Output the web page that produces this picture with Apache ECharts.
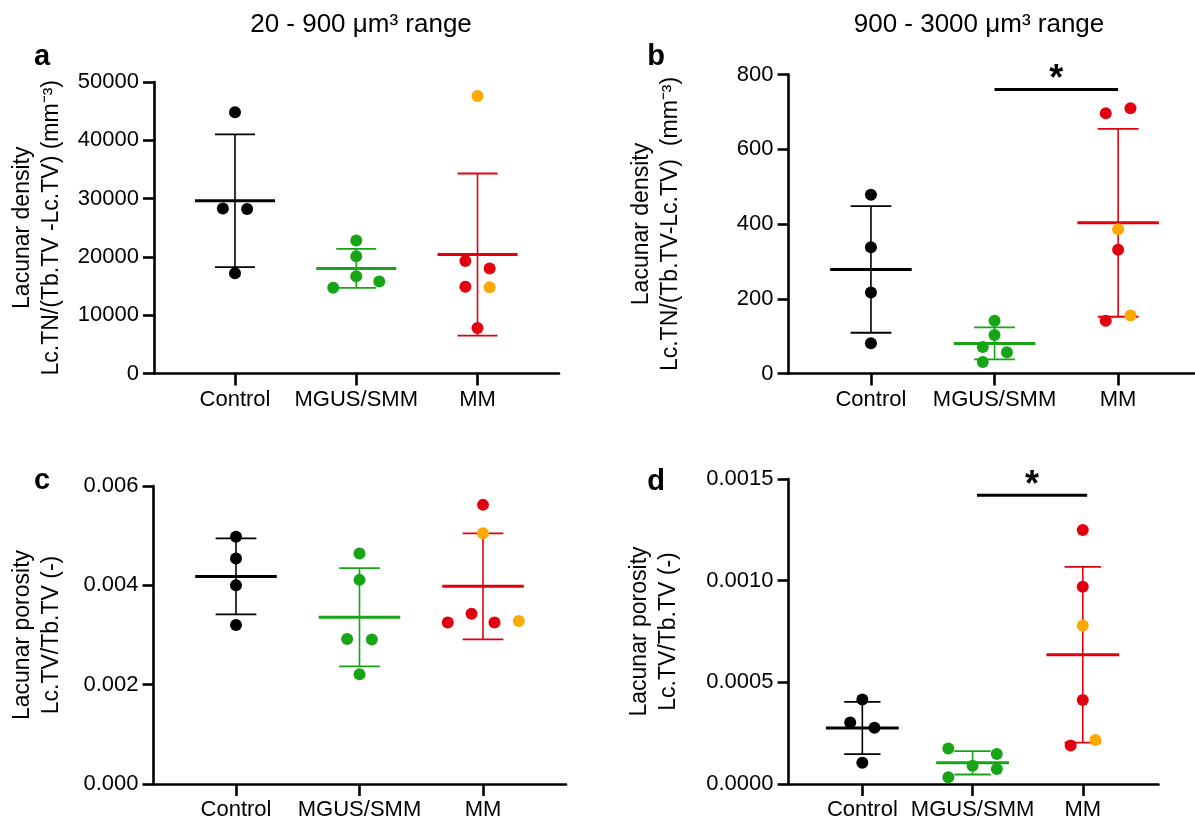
<!DOCTYPE html>
<html>
<head>
<meta charset="utf-8">
<script src="https://cdn.jsdelivr.net/npm/echarts@6/dist/echarts.min.js"></script>
<style>
  html, body { margin: 0; padding: 0; background: #ffffff; }
  #chart { width: 1195px; height: 824px; }
</style>
</head>
<body>
<div id="chart"></div>
<script>
const FONT = 'Arial, "Liberation Sans", Helvetica, sans-serif';

const CATEGORIES = ['Control', 'MGUS/SMM', 'MM'];
const GROUP_COLORS = ['#000000', '#17a517', '#e2000f'];
const SUBSET_COLOR = '#ffa800';

// ---- a: lacunar density, 20 - 900 um3 lacunae (mm^-3)
const aControl = [44800, 28300, 28200, 17200];
const aControlJitter = [0, -0.1, 0.1, 0];
const aMgus = [22800, 20100, 16700, 14700, 15800];
const aMgusJitter = [0, 0, 0, -0.19, 0.19];
const aMm = [47600, 19300, 18000, 14900, 14800, 7800];
const aMmJitter = [0, -0.1, 0.1, -0.1, 0.1, 0];
const aMmSubset = [1, 0, 0, 0, 1, 0];

// ---- b: lacunar density, 900 - 3000 um3 lacunae (mm^-3)
const bControl = [478, 338, 217, 81];
const bControlJitter = [0, 0, 0, 0];
const bMgus = [141, 103, 71, 57, 31];
const bMgusJitter = [0, 0, -0.095, 0.1, -0.095];
const bMm = [696, 710, 386, 331, 141, 155];
const bMmJitter = [-0.1, 0.1, 0, 0, -0.1, 0.1];
const bMmSubset = [0, 0, 1, 0, 0, 1];
const bSignificance = [1, 2, 760];

// ---- c: lacunar porosity, 20 - 900 um3 lacunae (-)
const cControl = [0.00498, 0.00454, 0.00400, 0.00320];
const cControlJitter = [0, 0, 0, 0];
const cMgus = [0.00464, 0.00411, 0.00292, 0.00291, 0.00221];
const cMgusJitter = [0, 0, -0.1, 0.1, 0];
const cMm = [0.00562, 0.00505, 0.00343, 0.00325, 0.00325, 0.00328];
const cMmJitter = [0, 0, -0.093, -0.285, 0.093, 0.29];
const cMmSubset = [0, 1, 0, 0, 0, 1];

// ---- d: lacunar porosity, 900 - 3000 um3 lacunae (-)
const dControl = [0.000416, 0.000302, 0.000277, 0.000105];
const dControlJitter = [0, -0.11, 0.11, 0];
const dMgus = [0.000175, 0.000148, 0.000090, 0.000074, 0.000033];
const dMgusJitter = [-0.22, 0.22, 0, 0.22, -0.22];
const dMm = [0.001249, 0.000970, 0.000779, 0.000413, 0.000189, 0.000216];
const dMmJitter = [0, 0, 0, 0, -0.11, 0.115];
const dMmSubset = [0, 0, 1, 0, 0, 1];
const dSignificance = [1.04, 2.04, 0.00142];

// ---- text
const COLUMN_TITLES = ['20 - 900 \u03bcm\u00b3 range', '900 - 3000 \u03bcm\u00b3 range'];
const PANEL_LETTERS = ['a', 'b', 'c', 'd'];
const Y_NAMES = [
  'Lacunar density\nLc.TN/(Tb.TV -Lc.TV) (mm\u207b\u00b3)',
  'Lacunar density\nLc.TN/(Tb.TV-Lc.TV)  (mm\u207b\u00b3)',
  'Lacunar porosity\nLc.TV/Tb.TV (-)',
  'Lacunar porosity\nLc.TV/Tb.TV (-)'
];

function mean(v) { return v.reduce((s, x) => s + x, 0) / v.length; }
function sd(v) {
  const m = mean(v);
  return Math.sqrt(v.reduce((s, x) => s + (x - m) * (x - m), 0) / (v.length - 1));
}

const panels = [
  { groups: [aControl, aMgus, aMm], jitter: [aControlJitter, aMgusJitter, aMmJitter], subset: aMmSubset,
    grid: { left: 154, top: 82, width: 405, height: 291.5 }, xMin: -0.668, xMax: 2.672,
    yMax: 50000, yStep: 10000, digits: 0, nameGap: 88, sig: null },
  { groups: [bControl, bMgus, bMm], jitter: [bControlJitter, bMgusJitter, bMmJitter], subset: bMmSubset,
    grid: { left: 788.5, top: 74.5, width: 406.5, height: 299 }, xMin: -0.667, xMax: 2.622,
    yMax: 800, yStep: 200, digits: 0, nameGap: 103, sig: bSignificance },
  { groups: [cControl, cMgus, cMm], jitter: [cControlJitter, cMgusJitter, cMmJitter], subset: cMmSubset,
    grid: { left: 153.5, top: 486, width: 412.5, height: 298 }, xMin: -0.668, xMax: 2.672,
    yMax: 0.006, yStep: 0.002, digits: 3, nameGap: 87, sig: null },
  { groups: [dControl, dMgus, dMm], jitter: [dControlJitter, dMgusJitter, dMmJitter], subset: dMmSubset,
    grid: { left: 788.5, top: 479, width: 370, height: 305 }, xMin: -0.67, xMax: 2.687,
    yMax: 0.0015, yStep: 0.0005, digits: 4, nameGap: 105, sig: dSignificance }
];

function renderSummary(params, api) {
  const g = Math.round(api.value(0));
  const m = api.value(1);
  const s = api.value(2);
  const color = GROUP_COLORS[g];
  const unit = api.size([1, 0])[0];
  const mid = api.coord([g, m]);
  const hi = api.coord([g, m + s]);
  const lo = api.coord([g, m - s]);
  const half = unit * 0.33;
  const cap = unit * 0.165;
  return {
    type: 'group',
    children: [
      { type: 'line', shape: { x1: mid[0], y1: hi[1], x2: mid[0], y2: lo[1] }, style: { stroke: color, lineWidth: 1.6 } },
      { type: 'line', shape: { x1: mid[0] - cap, y1: hi[1], x2: mid[0] + cap, y2: hi[1] }, style: { stroke: color, lineWidth: 1.8 } },
      { type: 'line', shape: { x1: mid[0] - cap, y1: lo[1], x2: mid[0] + cap, y2: lo[1] }, style: { stroke: color, lineWidth: 1.8 } },
      { type: 'line', shape: { x1: mid[0] - half, y1: mid[1], x2: mid[0] + half, y2: mid[1] }, style: { stroke: color, lineWidth: 3 } }
    ]
  };
}

function renderSignificance(params, api) {
  const p1 = api.coord([api.value(0), api.value(2)]);
  const p2 = api.coord([api.value(1), api.value(2)]);
  return {
    type: 'group',
    children: [
      { type: 'line', shape: { x1: p1[0], y1: p1[1], x2: p2[0], y2: p2[1] }, style: { stroke: '#000', lineWidth: 3 } },
      { type: 'text', x: (p1[0] + p2[0]) / 2, y: p1[1] - 9,
        style: { text: '*', font: 'bold 36px ' + FONT, fill: '#000', align: 'center', verticalAlign: 'middle' } }
    ]
  };
}

const grids = [], xAxes = [], yAxes = [], series = [];

panels.forEach((p, i) => {
  grids.push(Object.assign({ containLabel: false }, p.grid));
  xAxes.push({
    type: 'value', gridIndex: i, min: p.xMin, max: p.xMax,
    axisLine: { show: true, onZero: false, lineStyle: { color: '#000', width: 2.6 } },
    axisTick: { show: true, customValues: [0, 1, 2], length: 12, lineStyle: { color: '#000', width: 2.6 } },
    axisLabel: { customValues: [0, 1, 2], formatter: v => CATEGORIES[Math.round(v)],
      color: '#000', fontFamily: FONT, fontSize: 22, margin: 15 },
    splitLine: { show: false }
  });
  yAxes.push({
    type: 'value', gridIndex: i, min: 0, max: p.yMax, interval: p.yStep,
    name: Y_NAMES[i], nameLocation: 'middle', nameGap: p.nameGap,
    nameTextStyle: { color: '#000', fontFamily: FONT, fontSize: 23, lineHeight: 29 },
    axisLine: { show: true, onZero: false, lineStyle: { color: '#000', width: 2.6 } },
    axisTick: { show: true, length: 11, lineStyle: { color: '#000', width: 2.6 } },
    axisLabel: { formatter: v => v.toFixed(p.digits), color: '#000', fontFamily: FONT, fontSize: 22, margin: 15 },
    splitLine: { show: false }
  });

  // mean +/- SD for each group
  series.push({
    type: 'custom', xAxisIndex: i, yAxisIndex: i, clip: false, z: 2, silent: true,
    renderItem: renderSummary,
    data: p.groups.map((v, g) => [g, mean(v), sd(v)])
  });

  // individual patients
  p.groups.forEach((values, g) => {
    const main = [], sub = [];
    values.forEach((v, k) => {
      const pt = [g + p.jitter[g][k], v];
      if (g === 2 && p.subset[k]) sub.push(pt); else main.push(pt);
    });
    series.push({
      type: 'scatter', xAxisIndex: i, yAxisIndex: i, z: 3, silent: true,
      symbol: 'circle', symbolSize: 12, itemStyle: { color: GROUP_COLORS[g], opacity: 1 },
      data: main
    });
    if (sub.length) {
      series.push({
        type: 'scatter', xAxisIndex: i, yAxisIndex: i, z: 4, silent: true,
        symbol: 'circle', symbolSize: 12, itemStyle: { color: SUBSET_COLOR, opacity: 1 },
        data: sub
      });
    }
  });

  if (p.sig) {
    series.push({
      type: 'custom', xAxisIndex: i, yAxisIndex: i, clip: false, z: 5, silent: true,
      renderItem: renderSignificance,
      data: [p.sig]
    });
  }
});

const textEl = (text, x, y, font) => ({
  type: 'text', x: x, y: y, silent: true,
  style: { text: text, font: font, fill: '#000', align: 'center', verticalAlign: 'middle' }
});

const chart = echarts.init(document.getElementById('chart'), null, { renderer: 'canvas' });
chart.setOption({
  animation: false,
  backgroundColor: '#ffffff',
  grid: grids,
  xAxis: xAxes,
  yAxis: yAxes,
  series: series,
  graphic: [
    textEl(COLUMN_TITLES[0], 361, 25, '26px ' + FONT),
    textEl(COLUMN_TITLES[1], 979, 25, '26px ' + FONT),
    textEl(PANEL_LETTERS[0], 42, 57, 'bold 29px ' + FONT),
    textEl(PANEL_LETTERS[1], 656, 57, 'bold 29px ' + FONT),
    textEl(PANEL_LETTERS[2], 42, 481, 'bold 29px ' + FONT),
    textEl(PANEL_LETTERS[3], 656, 482, 'bold 29px ' + FONT)
  ]
});
</script>
</body>
</html>
